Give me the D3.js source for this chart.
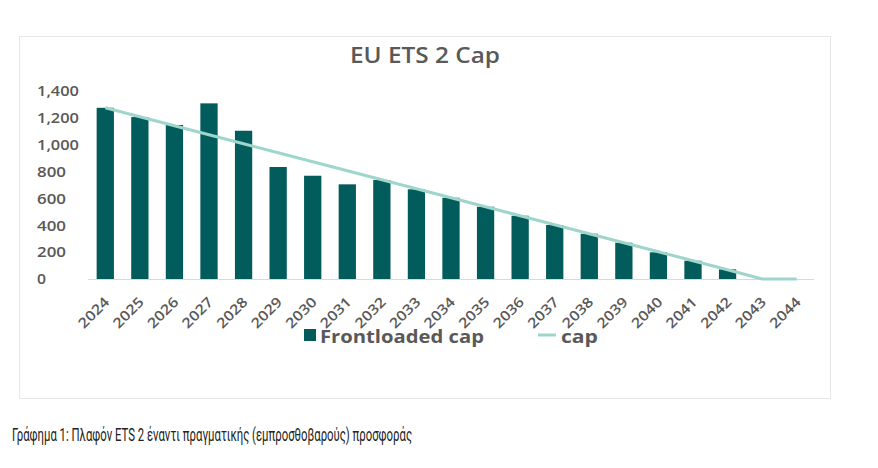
<!DOCTYPE html>
<html>
<head>
<meta charset="utf-8">
<script src="https://cdn.jsdelivr.net/npm/d3@7"></script>
<style>
  body { margin: 0; background: #fff; }
  svg text { font-family: "Open Sans", sans-serif; }
</style>
</head>
<body>
<div id="chart"></div>
<script>
// Data
const years = ["2024","2025","2026","2027","2028","2029","2030","2031","2032","2033","2034",
               "2035","2036","2037","2038","2039","2040","2041","2042","2043","2044"];
const frontloaded = [1275, 1206, 1147, 1308, 1104, 834, 769, 705, 737, 668, 605,
                     538, 471, 402, 337, 270, 199, 136, 72, 0, 0];
const cap = [1275, 1208, 1141, 1074, 1007, 940, 873, 806, 739, 672, 605,
             538, 471, 404, 337, 270, 203, 136, 69, 0, 0];
const yTicks = [0, 200, 400, 600, 800, 1000, 1200, 1400];

const width = 878, height = 468;
const barColor = "#035c5c", lineColor = "#9fd6cb", textColor = "#595959";

const svg = d3.select("#chart")
    .append("svg")
    .attr("width", width)
    .attr("height", height);

// chart frame
svg.append("rect")
    .attr("x", 19.5).attr("y", 36.5)
    .attr("width", 811).attr("height", 362)
    .attr("fill", "#fff")
    .attr("stroke", "#e6e6e6");

const x = d3.scaleBand().domain(years).range([88, 814]).paddingInner(0.5).paddingOuter(0.25);
const xc = d => x(d) + x.bandwidth() / 2;
const y = d3.scaleLinear().domain([0, 1400]).range([279, 91]);

// title
svg.append("text")
    .attr("x", 350).attr("y", 63)
    .attr("fill", textColor)
    .attr("textLength", 150)
    .attr("lengthAdjust", "spacingAndGlyphs")
    .style("font-size", "21px")
    .style("font-weight", "600")
    .text("EU ETS 2 Cap");

// y axis labels (left aligned, no line)
const fmt = d3.format(",");
svg.selectAll(".ytick")
    .data(yTicks)
    .enter()
    .append("text")
    .attr("x", 37)
    .attr("y", d => y(d))
    .attr("dy", "0.35em")
    .attr("fill", textColor)
    .attr("textLength", d => fmt(d).length === 1 ? 9 : fmt(d).length === 3 ? 29 : 42)
    .attr("lengthAdjust", "spacingAndGlyphs")
    .style("font-size", "15px")
    .style("font-weight", "600")
    .text(fmt);

// bars
svg.selectAll(".bar")
    .data(years.map((d, i) => ({ year: d, value: frontloaded[i] })))
    .enter()
    .append("rect")
    .attr("x", d => x(d.year))
    .attr("y", d => y(d.value))
    .attr("width", x.bandwidth())
    .attr("height", d => y(0) - y(d.value))
    .attr("fill", barColor);

// baseline
svg.append("line")
    .attr("x1", 88).attr("x2", 814)
    .attr("y1", y(0) + 0.5).attr("y2", y(0) + 0.5)
    .attr("stroke", "#d9d9d9");

// cap line
const line = d3.line()
    .x((d, i) => xc(years[i]))
    .y(d => y(d));
svg.append("path")
    .datum(cap)
    .attr("d", line)
    .attr("fill", "none")
    .attr("stroke", lineColor)
    .attr("stroke-width", 3);

// x labels rotated
svg.selectAll(".xtick")
    .data(years)
    .enter()
    .append("text")
    .attr("transform", d => `translate(${xc(d) + 5},${y(0) + 24}) rotate(-45)`)
    .attr("text-anchor", "end")
    .attr("fill", textColor)
    .attr("textLength", 37)
    .attr("lengthAdjust", "spacingAndGlyphs")
    .style("font-size", "14px")
    .style("font-weight", "600")
    .text(d => d);

// legend
const legend = svg.append("g");
legend.append("rect")
    .attr("x", 304).attr("y", 329)
    .attr("width", 12).attr("height", 12)
    .attr("fill", barColor);
legend.append("text")
    .attr("x", 320).attr("y", 343)
    .attr("fill", textColor)
    .attr("textLength", 164)
    .attr("lengthAdjust", "spacingAndGlyphs")
    .style("font-size", "18px")
    .style("font-weight", "700")
    .text("Frontloaded cap");
legend.append("line")
    .attr("x1", 538).attr("x2", 556)
    .attr("y1", 335).attr("y2", 335)
    .attr("stroke", lineColor)
    .attr("stroke-width", 3);
legend.append("text")
    .attr("x", 561).attr("y", 343)
    .attr("fill", textColor)
    .attr("textLength", 37)
    .attr("lengthAdjust", "spacingAndGlyphs")
    .style("font-size", "18px")
    .style("font-weight", "700")
    .text("cap");

// caption below the chart
svg.append("text")
    .attr("x", 12).attr("y", 441)
    .attr("fill", "#222")
    .attr("textLength", 400)
    .attr("lengthAdjust", "spacingAndGlyphs")
    .style("font-family", "Roboto, sans-serif")
    .style("font-size", "19px")
    .text("Γράφημα 1: Πλαφόν ETS 2 έναντι πραγματικής (εμπροσθοβαρούς) προσφοράς");
</script>
</body>
</html>
